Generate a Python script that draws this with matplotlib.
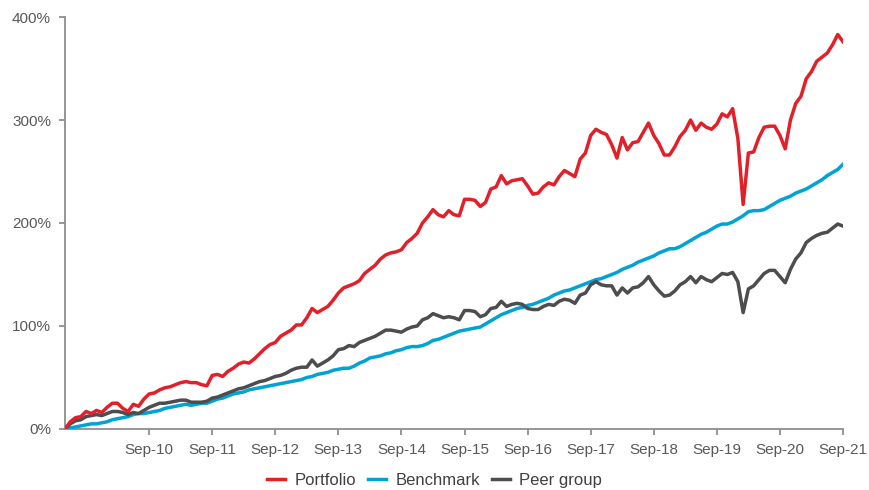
import numpy as np
import matplotlib
matplotlib.use("Agg")
import matplotlib.pyplot as plt

plt.rcParams['font.family'] = ['Liberation Sans', 'DejaVu Sans']

# monthly cumulative returns (%), May-09 .. Sep-21
portfolio = [0, 7, 11, 12, 17, 15, 18, 16, 21, 25, 25, 20, 17, 24, 22, 29, 34, 35, 38, 40,
             41, 43, 45, 46, 45, 45, 43, 42, 52, 53, 51, 56, 59, 63, 65, 64, 68, 73, 78, 82,
             84, 90, 93, 96, 101, 101, 108, 117, 113, 116, 119, 125, 132, 137, 139, 141, 144, 151, 155, 159,
             165, 169, 171, 172, 174, 181, 185, 190, 200, 206, 213, 208, 206, 212, 208, 207, 223, 223, 222, 216,
             220, 233, 235, 246, 238, 241, 242, 243, 236, 228, 229, 235, 239, 237, 245, 251, 248, 245, 262, 268,
             285, 291, 288, 286, 276, 263, 283, 271, 278, 279, 288, 297, 285, 277, 266, 266, 274, 284, 290, 300,
             290, 297, 293, 291, 296, 306, 303, 311, 282, 218, 268, 269, 283, 293, 294, 294, 285, 272, 300, 316,
             323, 340, 347, 357, 361, 365, 373, 383, 376]
benchmark = [0, 1, 2, 3, 4, 5, 5, 6, 7, 9, 10, 11, 12, 14, 15, 15, 16, 17, 18, 20,
             21, 22, 23, 24, 23, 24, 25, 25, 27, 29, 30, 32, 34, 35, 36, 38, 39, 40, 41, 42,
             43, 44, 45, 46, 47, 48, 50, 51, 53, 54, 55, 57, 58, 59, 59, 61, 64, 66, 69, 70,
             71, 73, 74, 76, 77, 79, 80, 80, 81, 83, 86, 87, 89, 91, 93, 95, 96, 97, 98, 99,
             102, 105, 108, 111, 113, 115, 117, 118, 120, 121, 123, 125, 127, 130, 132, 134, 135, 137, 139, 141,
             143, 145, 146, 148, 150, 152, 155, 157, 159, 162, 164, 166, 168, 171, 173, 175, 175, 177, 180, 183,
             186, 189, 191, 194, 197, 199, 199, 201, 204, 207, 211, 212, 212, 213, 216, 219, 222, 224, 226, 229,
             231, 233, 236, 239, 242, 246, 249, 252, 257]
peer = [0, 5, 8, 9, 12, 13, 14, 13, 15, 17, 17, 16, 14, 16, 15, 18, 21, 23, 25, 25,
        26, 27, 28, 28, 26, 26, 26, 27, 30, 31, 33, 35, 37, 39, 40, 42, 44, 46, 47, 49,
        51, 52, 54, 57, 59, 60, 60, 67, 61, 64, 67, 71, 77, 78, 81, 80, 84, 86, 88, 90,
        93, 96, 96, 95, 94, 97, 99, 100, 106, 108, 112, 110, 108, 109, 108, 106, 115, 115, 114, 109,
        111, 117, 118, 124, 119, 121, 122, 121, 117, 116, 116, 119, 121, 120, 124, 126, 125, 122, 130, 132,
        140, 143, 140, 139, 139, 130, 137, 132, 137, 138, 142, 148, 140, 134, 129, 130, 134, 140, 143, 148,
        142, 148, 145, 143, 147, 151, 150, 152, 143, 113, 136, 139, 145, 151, 154, 154, 148, 142, 155, 165,
        171, 181, 185, 188, 190, 191, 195, 199, 197]

tick_labels = ['Sep-10', 'Sep-11', 'Sep-12', 'Sep-13', 'Sep-14', 'Sep-15',
               'Sep-16', 'Sep-17', 'Sep-18', 'Sep-19', 'Sep-20', 'Sep-21']
tick_months = [16 + 12 * k for k in range(len(tick_labels))]
y_ticks = [0, 100, 200, 300, 400]

months = np.arange(len(portfolio))

fig = plt.figure(figsize=(8.69, 4.90), dpi=100)
ax = fig.add_axes([0.0748, 0.1245, 0.8953, 0.8408])

ax.plot(months, benchmark, color='#00A3D3', lw=2.5, label='Benchmark', zorder=3)
ax.plot(months, peer, color='#4D4D4F', lw=2.5, label='Peer group', zorder=3)
ax.plot(months, portfolio, color='#E2202A', lw=2.5, label='Portfolio', zorder=4)

ax.set_xlim(0, len(portfolio) - 1)
ax.set_ylim(0, 400)
ax.set_xticks(tick_months)
ax.set_xticklabels(tick_labels)
ax.set_yticks(y_ticks)
ax.set_yticklabels(['{}%'.format(v) for v in y_ticks])

for s in ['top', 'right']:
    ax.spines[s].set_visible(False)
for s in ['left', 'bottom']:
    ax.spines[s].set_color('#8f8f8f')
    ax.spines[s].set_linewidth(1.3)
ax.tick_params(axis='both', colors='#8f8f8f', labelcolor='#595959', labelsize=11,
               length=4, width=1.3, pad=6)

h, l = ax.get_legend_handles_labels()
order = [2, 0, 1]
fig.legend([h[i] for i in order], [l[i] for i in order], loc='center',
           bbox_to_anchor=(0.5, 0.02), ncol=3, frameon=False, fontsize=12,
           handlelength=1.1, handletextpad=0.55, columnspacing=0.7,
           labelcolor='#404040', borderpad=0.1)

fig.savefig('out.png', dpi=100)
